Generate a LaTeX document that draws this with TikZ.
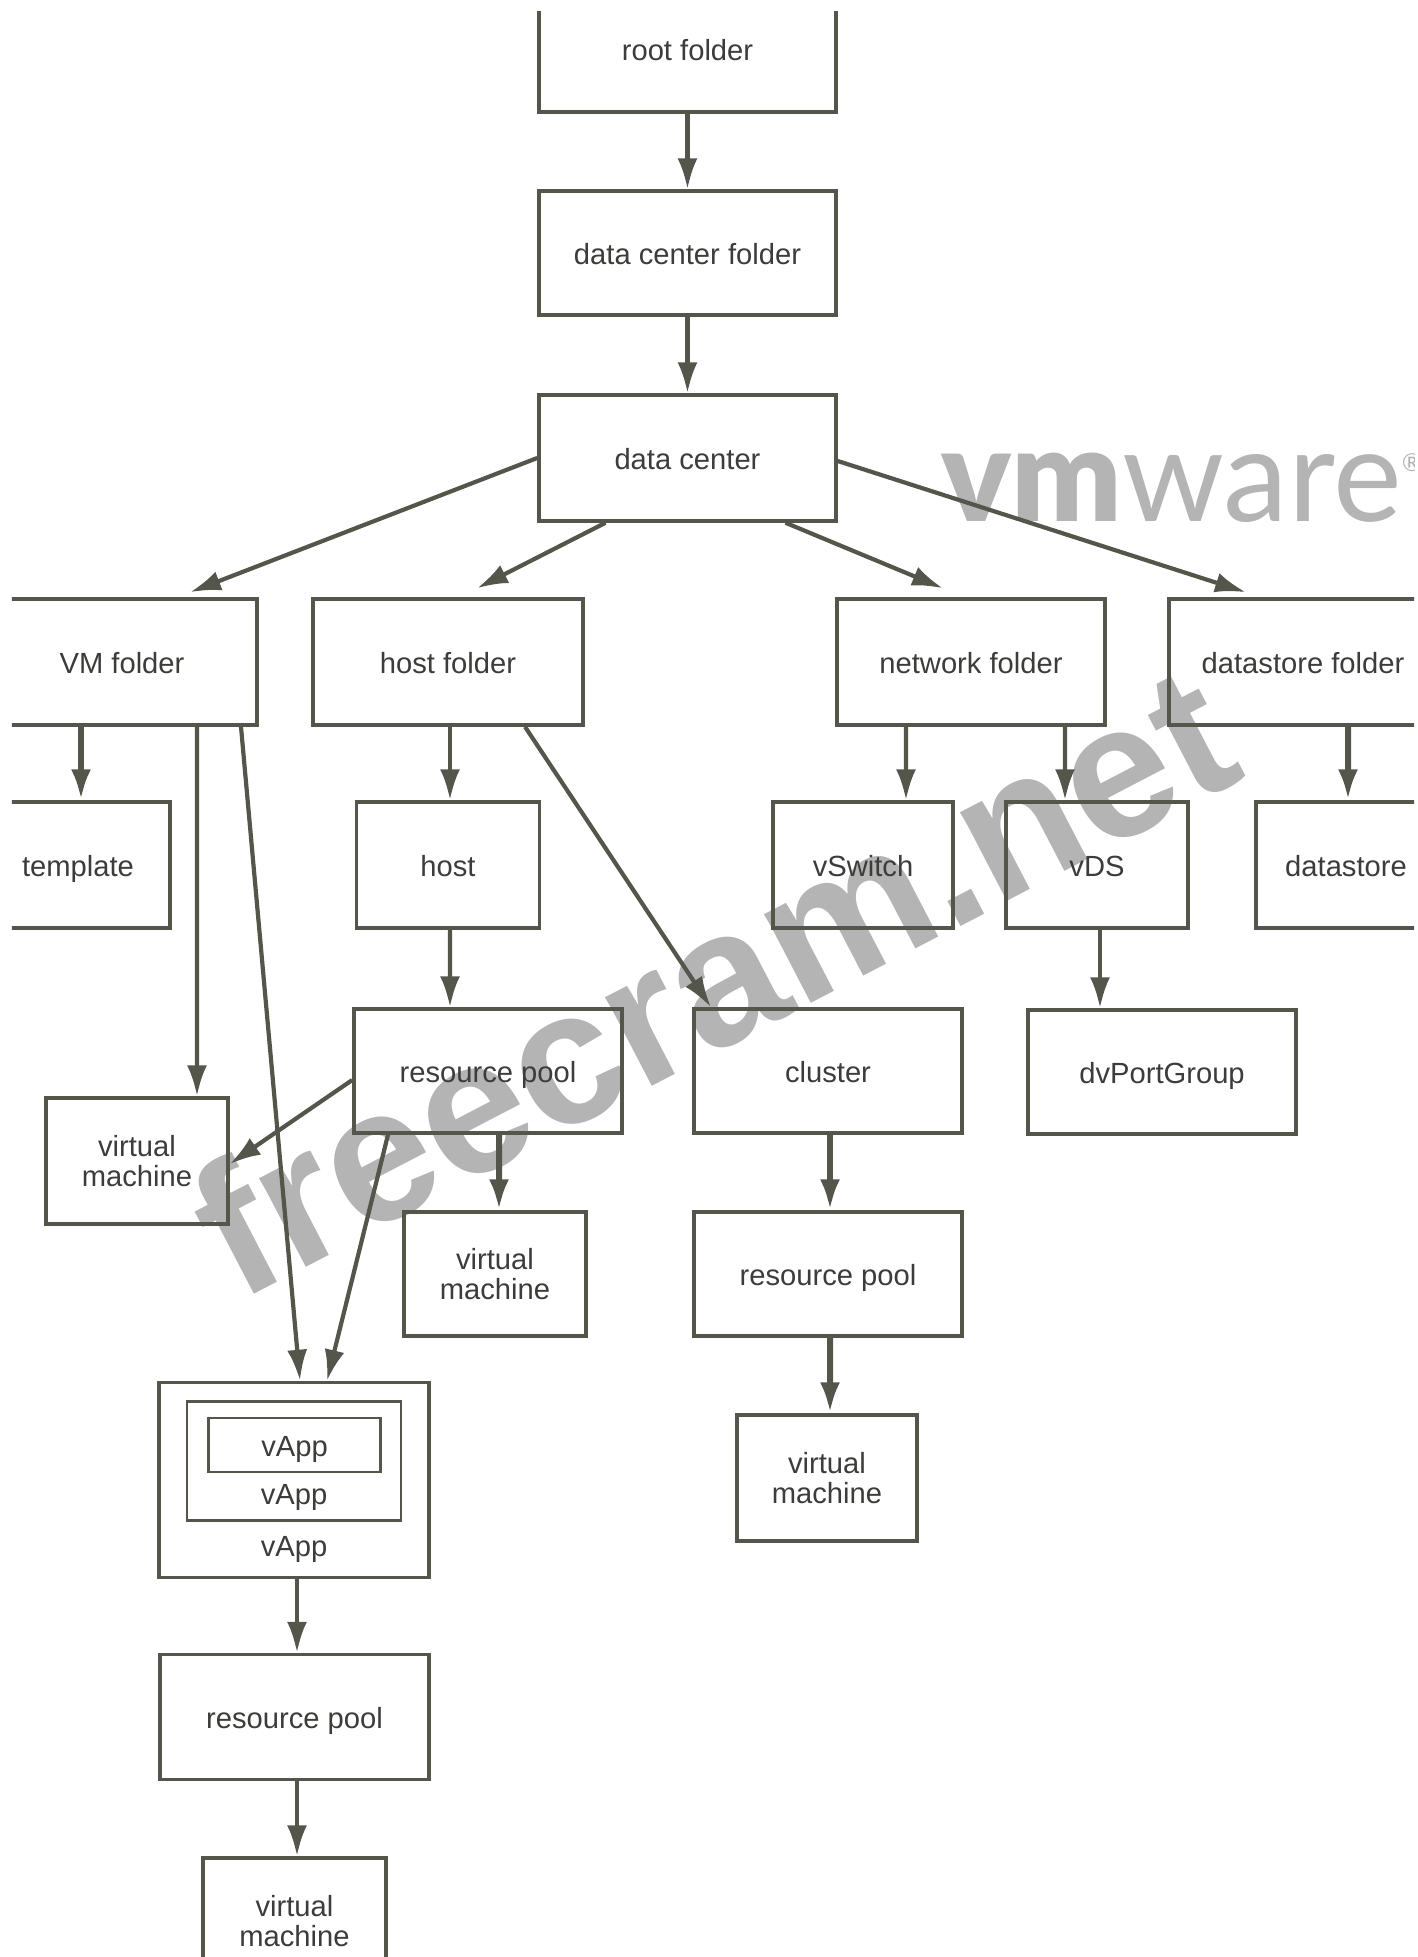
\documentclass[tikz,border=0pt]{standalone}
\usepackage{fontspec}
\setmainfont{Liberation Sans}
\newfontfamily\logofont{Lato}
\newfontfamily\logobold{Lato Black}
\usetikzlibrary{arrows.meta}

\definecolor{Ink}{HTML}{55564B}
\definecolor{Label}{HTML}{3C3C3A}
\definecolor{Mark}{HTML}{B4B4B4}
\tikzstyle{Box} = [draw=Ink,
                     rectangle,
                     line width=0.035cm,
                     inner sep=0pt,
                     align=center,
                     text=Label,
                     font=\fontsize{8.3}{8.4}\selectfont]
\tikzstyle{Solo} = [Box,
                     text height=0.22cm,
                     text depth=0cm]
\tikzstyle{Nest} = [Box, line width=0.028cm]
\tikzstyle{Tag} = [inner sep=0pt,
                     text=Label,
                     text height=0.22cm,
                     text depth=0cm,
                     font=\fontsize{8.3}{8.4}\selectfont]
\tikzstyle{Link} = [-{Latex[length=0.31cm,width=0.2cm]},
                     draw=Ink,
                     fill=Ink,
                     line width=0.042cm]
\tikzstyle{Heavy} = [Link, line width=0.06cm]

\begin{document}
\begin{tikzpicture}

    \useasboundingbox (0, 0) rectangle (14.18, -19.57);
    \clip (0.12, -0.12) rectangle (14.14, -19.57);

    % Watermarks
    \node (vmware) at (11.82, -4.88) [inner sep=0pt, text=Mark, font=\logofont\fontsize{37}{37}\selectfont]{{\logobold vm}ware\raisebox{0.5cm}{\fontsize{7}{7}\selectfont\textregistered}};
    \node (freecram) at (7.12, -9.79) [inner sep=0pt, rotate=27.5, text=Mark, font=\fontsize{54}{54}\selectfont\bfseries]{freecram.net};

    % Top of the tree
    \node (root) at (6.875, -0.49) [Solo, minimum width=2.97cm, minimum height=1.26cm]{root folder};
    \node (dcfolder) at (6.875, -2.53) [Solo, minimum width=2.97cm, minimum height=1.24cm]{data center folder};
    \node (dc) at (6.875, -4.58) [Solo, minimum width=2.97cm, minimum height=1.26cm]{data center};

    % Folders
    \node (vmfolder) at (1.22, -6.62) [Solo, minimum width=2.70cm, minimum height=1.26cm]{VM folder};
    \node (hostfolder) at (4.48, -6.62) [Solo, minimum width=2.70cm, minimum height=1.26cm]{host folder};
    \node (netfolder) at (9.71, -6.62) [Solo, minimum width=2.68cm, minimum height=1.26cm]{network folder};
    \node (dsfolder) at (13.03, -6.62) [Solo, minimum width=2.68cm, minimum height=1.26cm]{datastore folder};

    % Objects in the folders
    \node (template) at (0.78, -8.65) [Solo, minimum width=1.84cm, minimum height=1.26cm]{template};
    \node (host) at (4.48, -8.65) [Solo, minimum width=1.83cm, minimum height=1.26cm]{host};
    \node (vswitch) at (8.63, -8.65) [Solo, minimum width=1.80cm, minimum height=1.26cm]{vSwitch};
    \node (vds) at (10.97, -8.65) [Solo, minimum width=1.82cm, minimum height=1.26cm]{vDS};
    \node (datastore) at (13.46, -8.65) [Solo, minimum width=1.80cm, minimum height=1.26cm]{datastore};

    % Pools and clusters
    \node (pool) at (4.88, -10.71) [Solo, minimum width=2.68cm, minimum height=1.24cm]{resource pool};
    \node (cluster) at (8.28, -10.71) [Solo, minimum width=2.68cm, minimum height=1.24cm]{cluster};
    \node (portgroup) at (11.62, -10.72) [Solo, minimum width=2.68cm, minimum height=1.24cm]{dvPortGroup};
    \node (vmleft) at (1.37, -11.61) [Box, minimum width=1.82cm, minimum height=1.26cm]{virtual\\machine};
    \node (vmpool) at (4.95, -12.74) [Box, minimum width=1.82cm, minimum height=1.24cm]{virtual\\machine};
    \node (poolb) at (8.28, -12.74) [Solo, minimum width=2.68cm, minimum height=1.24cm]{resource pool};
    \node (vmcluster) at (8.27, -14.78) [Box, minimum width=1.80cm, minimum height=1.26cm]{virtual\\machine};

    % Nested vApps
    \node (appouter) at (2.94, -14.80) [Box, minimum width=2.70cm, minimum height=1.95cm]{};
    \node (appmid) at (2.94, -14.61) [Nest, minimum width=2.14cm, minimum height=1.19cm]{};
    \node (appinner) at (2.945, -14.45) [Nest, text height=0.22cm, text depth=0cm, minimum width=1.72cm, minimum height=0.54cm]{vApp};
    \node (appmidtag) at (2.94, -14.93) [Tag]{vApp};
    \node (appoutertag) at (2.94, -15.45) [Tag]{vApp};
    \node (poolc) at (2.945, -17.17) [Solo, minimum width=2.69cm, minimum height=1.25cm]{resource pool};
    \node (vmapp) at (2.945, -19.21) [Box, minimum width=1.83cm, minimum height=1.26cm]{virtual\\machine};

    % Lines
    \draw [Link] (root) -- (dcfolder);
    \draw [Link] (dcfolder) -- (dc);

    \draw [Link] (dc.west) -- ([xshift=0.68cm, yshift=0.05cm]vmfolder.north);
    \draw [Link] ([xshift=-0.82cm]dc.south) -- ([xshift=0.29cm, yshift=0.09cm]hostfolder.north);
    \draw [Link] ([xshift=0.98cm]dc.south) -- ([xshift=-0.28cm, yshift=0.09cm]netfolder.north);
    \draw [Link] ([yshift=-0.03cm]dc.east) -- ([xshift=-0.57cm, yshift=0.05cm]dsfolder.north);

    \draw [Heavy] ([xshift=-0.41cm]vmfolder.south) -- ([xshift=0.03cm]template.north);
    \draw [Link] ([xshift=0.75cm]vmfolder.south) -- ([xshift=0.60cm]vmleft.north);
    \draw [Link] ([xshift=1.19cm]vmfolder.south) -- ([xshift=0.06cm]appouter.north);

    \draw [Link] ([xshift=0.02cm]hostfolder.south) -- ([xshift=0.02cm]host.north);
    \draw [Link] ([xshift=0.02cm]host.south) -- ([xshift=-0.38cm]pool.north);
    \draw [Link] ([xshift=0.77cm]hostfolder.south) -- ([xshift=-1.17cm]cluster.north);

    \draw [Link] ([yshift=-0.09cm]pool.west) -- ([yshift=-0.03cm]vmleft.east);
    \draw [Heavy] ([xshift=0.11cm]pool.south) -- ([xshift=0.04cm]vmpool.north);
    \draw [Link] ([xshift=-1.00cm]pool.south) -- ([xshift=0.33cm]appouter.north);

    \draw [Heavy] ([xshift=0.02cm]cluster.south) -- ([xshift=0.02cm]poolb.north);
    \draw [Heavy] ([xshift=0.02cm]poolb.south) -- ([xshift=0.03cm]vmcluster.north);

    \draw [Link] ([xshift=0.03cm]appouter.south) -- ([xshift=0.025cm]poolc.north);
    \draw [Link] ([xshift=0.025cm]poolc.south) -- ([xshift=0.025cm]vmapp.north);

    \draw [Link] ([xshift=-0.65cm]netfolder.south) -- ([xshift=0.43cm]vswitch.north);
    \draw [Link] ([xshift=0.94cm]netfolder.south) -- ([xshift=-0.32cm]vds.north);
    \draw [Heavy] ([xshift=0.45cm]dsfolder.south) -- ([xshift=0.02cm]datastore.north);
    \draw [Link] ([xshift=0.03cm]vds.south) -- ([xshift=-0.62cm]portgroup.north);

\end{tikzpicture}
\end{document}
